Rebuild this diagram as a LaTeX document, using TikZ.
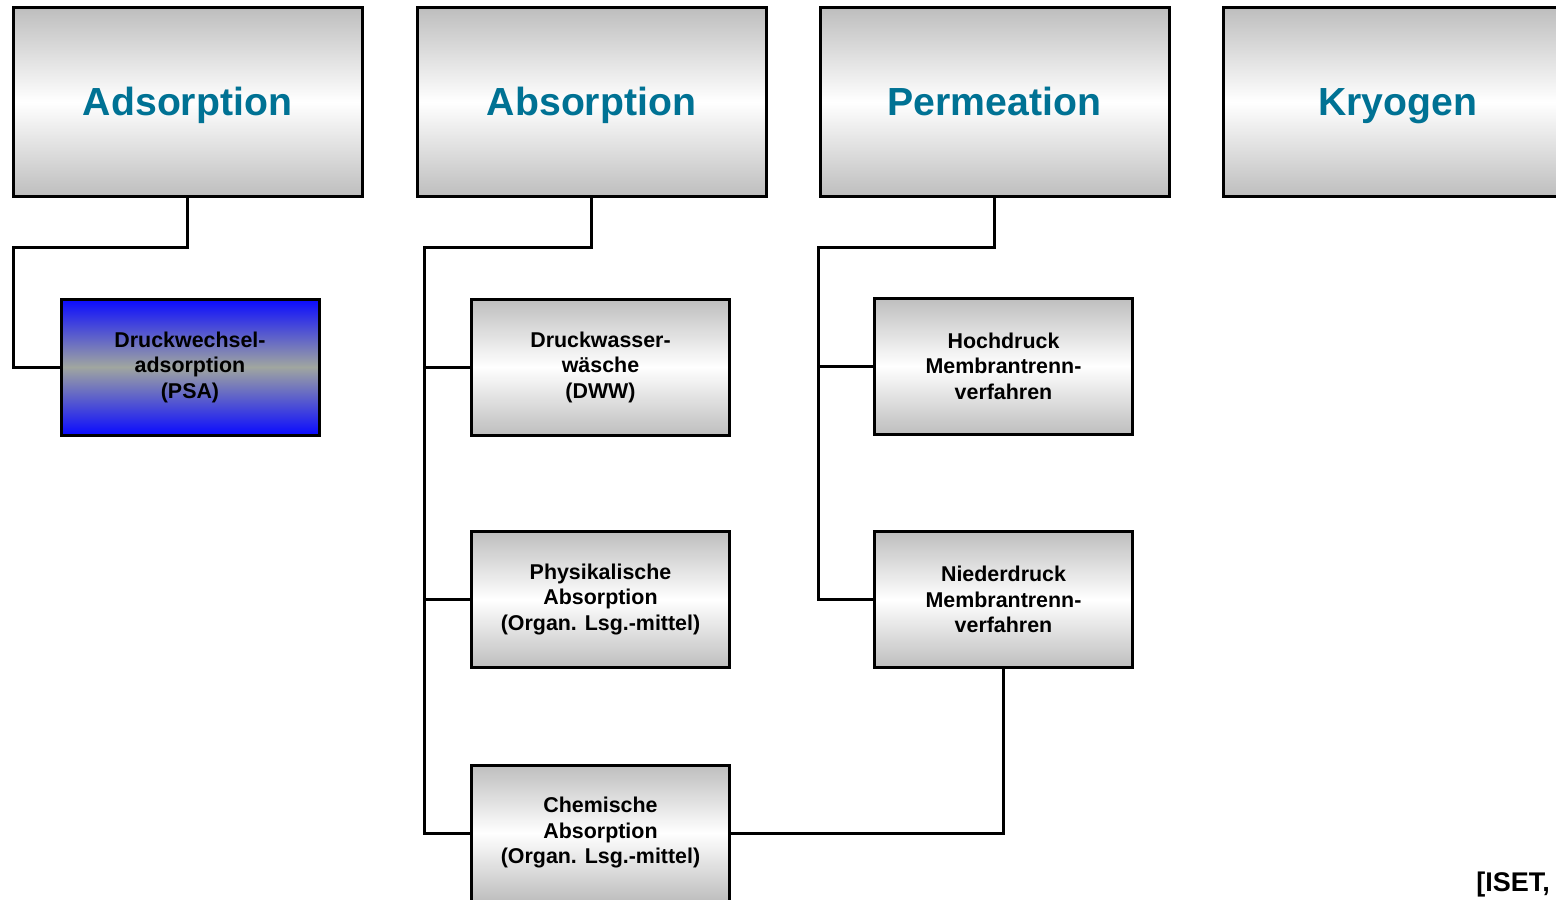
\documentclass[tikz,border=0pt]{standalone}
\usepackage{fontspec}
\setmainfont{Liberation Sans}
\usepackage{tikz}
\usetikzlibrary{positioning}
\definecolor{titleblue}{RGB}{0,114,148}
\definecolor{boxgray}{RGB}{190,190,190}
\definecolor{psablue}{RGB}{10,10,255}
\definecolor{psagray}{RGB}{160,166,160}
\tikzset{
    category/.style = {rectangle, minimum width=174.5pt, minimum height=94pt, text height=14pt, text depth=0pt, text centered, draw=black, line width=1.5pt, top color=boxgray, bottom color=boxgray, middle color=white, text=titleblue, font=\fontsize{19.6}{22}\selectfont\bfseries},
    method/.style = {rectangle, minimum width=129pt, minimum height=68pt, align=center, draw=black, line width=1.5pt, top color=boxgray, bottom color=boxgray, middle color=white, font=\fontsize{10.7}{12.75}\selectfont\bfseries},
    selected/.style = {method, top color=psablue, bottom color=psablue, middle color=psagray},
    line/.style = {line width=1.5pt}
}
\begin{document}
\begin{tikzpicture}[x=0.5pt, y=-0.5pt]
\useasboundingbox (0,0) rectangle (1556,899);
\clip (0,0) rectangle (1556,899);

\node (adsorption) [category] at (187.5,102) {Adsorption};
\node (absorption) [category] at (591.5,102) {Absorption};
\node (permeation) [category] at (994.5,102) {Permeation};
\node (kryogen) [category] at (1397.5,102) {Kryogen};

\node (psa) [selected] at (190,367) {Druckwechsel-\\adsorption\\(PSA)};
\node (druckwasser) [method] at (600.5,367) {Druckwasser-\\wäsche\\(DWW)};
\node (physik) [method] at (600.5,599.5) {Physikalische\\Absorption\\(Organ. Lsg.-mittel)};
\node (chemisch) [method] at (600.5,833) {Chemische\\Absorption\\(Organ. Lsg.-mittel)};
\node (hochdruck) [method] at (1003.5,366) {Hochdruck\\Membrantrenn-\\verfahren};
\node (niederdruck) [method] at (1003.5,599.5) {Niederdruck\\Membrantrenn-\\verfahren};

\node (iset) [anchor=base east, font=\fontsize{13.5}{15}\selectfont\bfseries] at (1557,891) {[ISET,};

\coordinate (adsbus) at (13,247);
\coordinate (absbus) at (424,247);
\coordinate (permbus) at (818,247);

\draw [line] (adsorption.south) |- (adsbus) |- (psa.west);
\draw [line] (absorption.south) |- (absbus) |- (chemisch.west);
\draw [line] (absbus |- druckwasser.west) -- (druckwasser.west);
\draw [line] (absbus |- physik.west) -- (physik.west);
\draw [line] (permeation.south) |- (permbus) |- (niederdruck.west);
\draw [line] (permbus |- hochdruck.west) -- (hochdruck.west);
\draw [line] (niederdruck.south) |- (chemisch.east);
\end{tikzpicture}
\end{document}
